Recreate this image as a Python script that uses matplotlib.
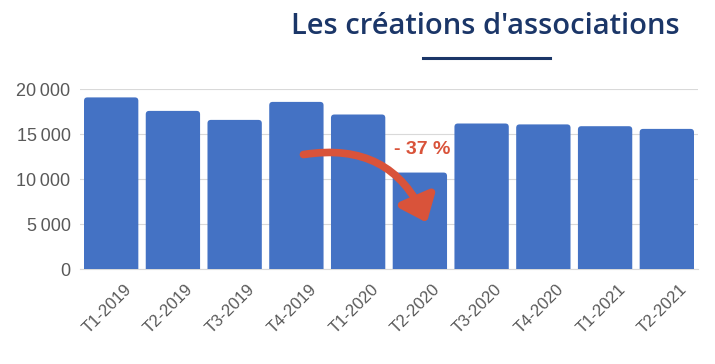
import matplotlib.pyplot as plt
import matplotlib.transforms as mtransforms
from matplotlib.patches import FancyArrowPatch, FancyBboxPatch
from matplotlib.ticker import FuncFormatter

# trimestres et nombre de créations
trimestres = ["T1-2019", "T2-2019", "T3-2019", "T4-2019", "T1-2020",
              "T2-2020", "T3-2020", "T4-2020", "T1-2021", "T2-2021"]
creations = [19100, 17600, 16600, 18600, 17200, 10750, 16200, 16100, 15900, 15600]
yticks = [0, 5000, 10000, 15000, 20000]

bleu = "#4472c4"
rouge = "#d9533a"
marine = "#1b3668"
gris = "#595959"

fig = plt.figure(figsize=(7.15, 3.64), dpi=100)
ax = fig.add_axes([80.3 / 715, 1 - 269.3 / 364, 617.4 / 715, 180 / 364])

x = range(len(trimestres))
barres = ax.bar(x, creations, width=0.88, color=bleu, zorder=3)
ax.set_xlim(-0.5, len(trimestres) - 0.5)
ax.set_ylim(0, 20000)

# coins arrondis : on remplace chaque rectangle par une boite arrondie
asp = (20000 / 180) / (1 / 61.74)
for r in barres:
    r.set_visible(False)
    b = FancyBboxPatch((r.get_x(), r.get_y() - 600), r.get_width(), r.get_height() + 600,
                       boxstyle="round,pad=0,rounding_size=0.055", mutation_aspect=asp,
                       facecolor=bleu, edgecolor="none", zorder=3)
    ax.add_patch(b)

ax.set_yticks(yticks)
ax.yaxis.set_major_formatter(FuncFormatter(lambda v, p: f"{int(v):,}".replace(",", "\u202f")))
ax.grid(axis="y", color="#d9d9d9", linewidth=0.8, zorder=0)
ax.set_xticks(list(x))
ax.set_xticklabels(trimestres, rotation=45, ha="right", rotation_mode="anchor")

for s in ["top", "right", "left"]:
    ax.spines[s].set_visible(False)
ax.spines["bottom"].set_color("#d9d9d9")
ax.tick_params(length=0, colors=gris, labelsize=13)
ax.tick_params(axis="y", pad=7)
ax.tick_params(axis="x", pad=9, labelsize=12)
decal = mtransforms.ScaledTranslation(9 / 72, 0, fig.dpi_scale_trans)
for lab in ax.get_xticklabels():
    lab.set_family("Liberation Sans")
    lab.set_transform(lab.get_transform() + decal)
for lab in ax.get_yticklabels():
    lab.set_family("Liberation Sans")

# flèche courbe et baisse
fl = FancyArrowPatch((3.07, 12700), (5.13, 4900), connectionstyle="arc3,rad=-0.4",
                     arrowstyle="-|>,head_length=8,head_width=6.5", color=rouge,
                     linewidth=5.5, zorder=5, mutation_scale=1.8)
ax.add_patch(fl)
ax.text(5.03, 13300, "- 37 %", color=rouge, fontsize=14, fontweight="bold",
        ha="center", va="center", family="Liberation Sans")

# titre
fig.text(485 / 715, 1 - 27 / 364, "Les créations d'associations", color=marine, fontsize=21,
         fontweight="semibold", family="Open Sans", ha="center", va="center")
fig.add_artist(plt.Line2D([423 / 715, 550 / 715], [1 - 58 / 364] * 2, color=marine,
                          linewidth=2.2))

fig.savefig("out.png", dpi=100)
